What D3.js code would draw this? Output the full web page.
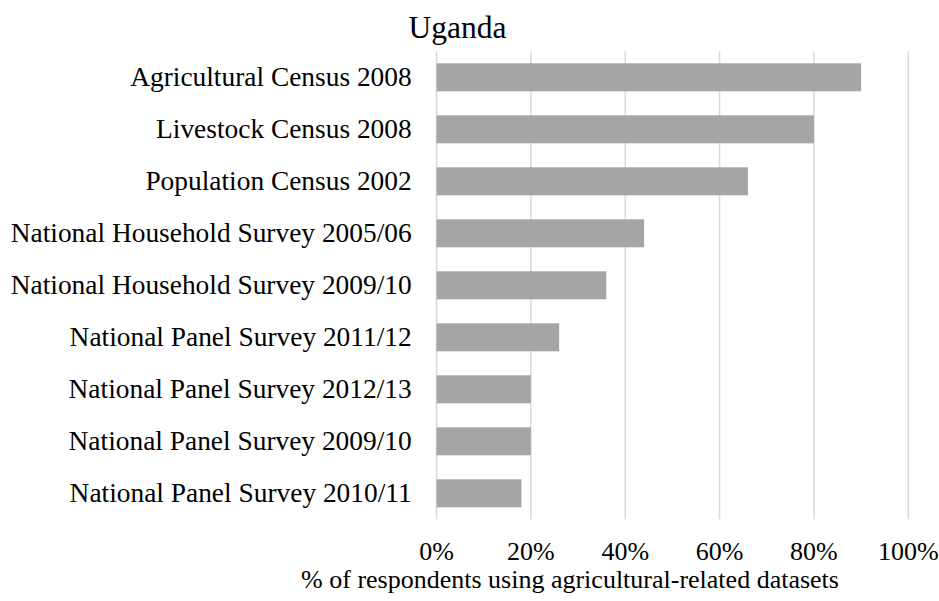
<!DOCTYPE html>
<html>
<head>
<meta charset="utf-8">
<script src="https://cdn.jsdelivr.net/npm/d3@7"></script>
<style>
  html, body { margin: 0; padding: 0; background: #fff; }
</style>
</head>
<body>
<svg id="chart" width="939" height="601"></svg>
<script>
// Surveys and the share of respondents using each one
const categories = [
  "Agricultural Census 2008",
  "Livestock Census 2008",
  "Population Census 2002",
  "National Household Survey 2005/06",
  "National Household Survey 2009/10",
  "National Panel Survey 2011/12",
  "National Panel Survey 2012/13",
  "National Panel Survey 2009/10",
  "National Panel Survey 2010/11"
];
const values = [90, 80, 66, 44, 36, 26, 20, 20, 18];
const tickValues = [0, 20, 40, 60, 80, 100];
const titleText = "Uganda";
const axisTitle = "% of respondents using agricultural-related datasets";

const FONT = "'Liberation Serif', 'Times New Roman', Times, serif";

const svg = d3.select("#chart")
  .attr("font-family", FONT);

const x = d3.scaleLinear().domain([0, 100]).range([436.5, 908.3]);
const y = d3.scaleBand().domain(categories).range([51.3, 519.3]).paddingInner(24 / 52).paddingOuter(12 / 52);

// vertical gridlines
svg.append("g")
  .selectAll("line")
  .data(tickValues)
  .join("line")
  .attr("x1", d => x(d)).attr("x2", d => x(d))
  .attr("y1", 51.3).attr("y2", 519.3)
  .attr("stroke", "#d9d9d9")
  .attr("stroke-width", 1.5);

// bars
svg.append("g")
  .selectAll("rect")
  .data(values)
  .join("rect")
  .attr("x", x(0))
  .attr("y", (d, i) => y(categories[i]))
  .attr("width", d => x(d) - x(0))
  .attr("height", y.bandwidth())
  .attr("fill", "#a5a5a5");

// category labels
svg.append("g")
  .selectAll("text")
  .data(categories)
  .join("text")
  .attr("font-family", FONT)
  .attr("x", 411.7)
  .attr("y", d => y(d) + y.bandwidth() / 2)
  .attr("dy", "0.3em")
  .attr("text-anchor", "end")
  .attr("font-size", 27.4)
  .text(d => d);

// x tick labels
svg.append("g")
  .selectAll("text")
  .data(tickValues)
  .join("text")
  .attr("font-family", FONT)
  .attr("x", d => x(d))
  .attr("y", 560)
  .attr("text-anchor", "middle")
  .attr("font-size", 26)
  .text(d => d + "%");

// chart title
svg.append("text")
  .attr("font-family", FONT)
  .attr("x", 457.5)
  .attr("y", 38.3)
  .attr("text-anchor", "middle")
  .attr("font-size", 31.5)
  .text(titleText);

// axis title
svg.append("text")
  .attr("font-family", FONT)
  .attr("x", 570)
  .attr("y", 588)
  .attr("text-anchor", "middle")
  .attr("font-size", 26)
  .text(axisTitle);
</script>
</body>
</html>
